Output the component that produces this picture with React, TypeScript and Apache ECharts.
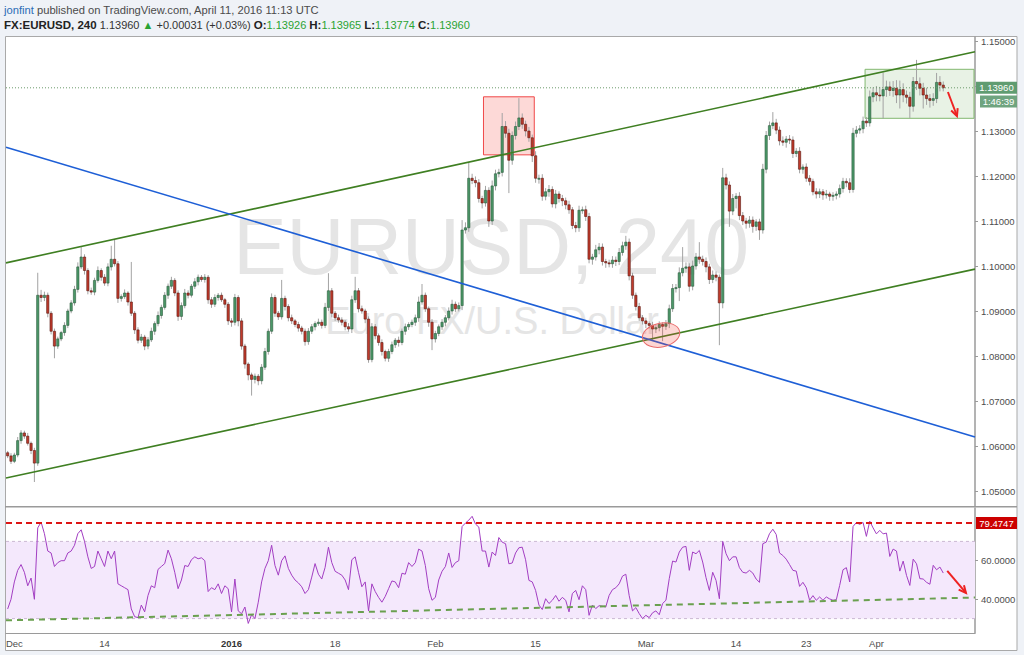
import React, { useEffect, useRef } from 'react';
import * as echarts from 'echarts';

// ---- price data: 8-hour bars, index 0 = Dec 1 2015, index 280 = Apr 11 2016 ----
const firstOpen = 1.0585;
const closes = [
  1.0578, 1.0566, 1.0580, 1.0612, 1.0629, 1.0622, 1.0606, 1.0590, 1.0562, 1.0935,
  1.0930, 1.0935, 1.0895, 1.0855, 1.0822, 1.0838, 1.0852, 1.0868, 1.0900, 1.0918,
  1.0948, 1.0998, 1.1020, 1.0990, 1.0945, 1.0942, 1.0968, 1.0990, 1.0975, 1.0962,
  1.0998, 1.1015, 1.1005, 1.0928, 1.0932, 1.0940, 1.0920, 1.0895, 1.0858, 1.0835,
  1.0842, 1.0822, 1.0836, 1.0855, 1.0872, 1.0890, 1.0908, 1.0935, 1.0955, 1.0968,
  1.0940, 1.0888, 1.0912, 1.0940, 1.0935, 1.0955, 1.0965, 1.0975, 1.0970, 1.0975,
  1.0925, 1.0915, 1.0930, 1.0935, 1.0925, 1.0915, 1.0878, 1.0875, 1.0930, 1.0878,
  1.0822, 1.0782, 1.0758, 1.0748, 1.0755, 1.0745, 1.0775, 1.0810, 1.0855, 1.0930,
  1.0895, 1.0887, 1.0928, 1.0910, 1.0885, 1.0878, 1.0870, 1.0862, 1.0855, 1.0832,
  1.0855, 1.0865, 1.0872, 1.0875, 1.0868, 1.0908, 1.0945, 1.0895, 1.0885, 1.0880,
  1.0875, 1.0865, 1.0860, 1.0925, 1.0945, 1.0905, 1.0900, 1.0882, 1.0792, 1.0865,
  1.0845, 1.0830, 1.0810, 1.0795, 1.0810, 1.0825, 1.0835, 1.0830, 1.0855, 1.0865,
  1.0870, 1.0875, 1.0885, 1.0920, 1.0935, 1.0905, 1.0875, 1.0838, 1.0850, 1.0865,
  1.0875, 1.0885, 1.0900, 1.0915, 1.0905, 1.0912, 1.1080, 1.1085, 1.1195, 1.1190,
  1.1185, 1.1150, 1.1140, 1.1168, 1.1100, 1.1178, 1.1205, 1.1208, 1.1310, 1.1295,
  1.1235, 1.1290, 1.1310, 1.1329, 1.1315, 1.1300, 1.1285, 1.1245, 1.1195, 1.1195,
  1.1155, 1.1165, 1.1170, 1.1138, 1.1160, 1.1150, 1.1145, 1.1136, 1.1125, 1.1090,
  1.1085, 1.1124, 1.1125, 1.1110, 1.1015, 1.1020, 1.1036, 1.1042, 1.1010, 1.1007,
  1.1005, 1.1013, 1.1010, 1.1030, 1.1045, 1.1053, 1.0978, 1.0935, 1.0910, 1.0885,
  1.0878, 1.0872, 1.0868, 1.0860, 1.0863, 1.0870, 1.0866, 1.0872, 1.0905, 1.0950,
  1.0952, 1.0985, 1.0995, 1.0998, 1.0955, 1.1000, 1.1020, 1.1015, 1.1010, 1.0998,
  1.0970, 1.0980, 1.0975, 1.0918, 1.1196, 1.1180, 1.1122, 1.1150, 1.1155, 1.1112,
  1.1100, 1.1095, 1.1102, 1.1088, 1.1098, 1.1080, 1.1215, 1.1290, 1.1312, 1.1318,
  1.1302, 1.1278, 1.1275, 1.1282, 1.1280, 1.1250, 1.1255, 1.1215, 1.1220, 1.1195,
  1.1188, 1.1165, 1.1160, 1.1165, 1.1158, 1.1160, 1.1155, 1.1157, 1.1160, 1.1172,
  1.1188, 1.1185, 1.1170, 1.1295, 1.1302, 1.1305, 1.1322, 1.1318, 1.1376, 1.1385,
  1.1380, 1.1378, 1.1392, 1.1398, 1.1390, 1.1395, 1.1380, 1.1392, 1.1380, 1.1375,
  1.1355, 1.1410, 1.1405, 1.1395, 1.1380, 1.1372, 1.1368, 1.1372, 1.1408, 1.1402,
  1.1396,
];
// wick lengths above / below the body, in pips
const upperWickPips = [
  4, 6, 5, 8, 6, 5, 7, 4, 6, 50,
  12, 8, 6, 5, 6, 5, 4, 7, 5, 6,
  8, 10, 22, 6, 5, 7, 6, 9, 5, 7,
  8, 30, 43, 6, 5, 8, 4, 89, 5, 6,
  7, 5, 6, 8, 5, 9, 6, 7, 6, 8,
  5, 6, 7, 9, 6, 5, 8, 6, 5, 7,
  5, 6, 7, 5, 6, 4, 5, 6, 8, 5,
  6, 5, 4, 5, 6, 5, 7, 8, 6, 9,
  6, 5, 41, 6, 5, 7, 4, 6, 5, 6,
  7, 6, 5, 8, 6, 10, 39, 6, 5, 7,
  6, 5, 8, 9, 31, 6, 7, 5, 6, 8,
  6, 5, 7, 4, 6, 7, 5, 8, 6, 7,
  5, 6, 7, 12, 25, 6, 5, 7, 6, 5,
  7, 6, 8, 10, 6, 7, 22, 12, 36, 10,
  9, 8, 6, 10, 7, 12, 9, 8, 30, 12,
  10, 9, 11, 44, 10, 8, 9, 7, 10, 8,
  9, 8, 10, 7, 9, 6, 8, 7, 9, 6,
  8, 10, 7, 9, 8, 7, 11, 9, 8, 6,
  7, 9, 8, 10, 9, 14, 8, 7, 6, 8,
  6, 7, 5, 8, 6, 7, 5, 8, 9, 10,
  8, 12, 47, 10, 8, 12, 9, 33, 8, 9,
  7, 10, 8, 6, 22, 9, 8, 10, 7, 9,
  8, 7, 9, 8, 6, 7, 12, 10, 9, 24,
  9, 8, 10, 7, 9, 8, 7, 9, 6, 8,
  7, 6, 8, 7, 6, 9, 5, 7, 6, 9,
  8, 7, 10, 12, 9, 8, 10, 9, 14, 12,
  15, 18, 38, 14, 12, 16, 18, 20, 14, 10,
  12, 10, 48, 14, 12, 16, 10, 12, 21, 14,
  8,
];
const lowerWickPips = [
  5, 6, 4, 5, 7, 6, 5, 8, 42, 6,
  10, 8, 9, 7, 27, 6, 5, 7, 6, 5,
  6, 7, 5, 9, 8, 6, 7, 5, 8, 6,
  7, 8, 6, 10, 7, 5, 8, 6, 9, 7,
  6, 9, 7, 5, 8, 6, 7, 5, 8, 6,
  7, 10, 8, 6, 7, 5, 6, 8, 5, 7,
  9, 8, 6, 7, 5, 8, 9, 10, 7, 12,
  8, 10, 12, 36, 9, 10, 8, 6, 7, 6,
  8, 7, 6, 9, 8, 7, 6, 8, 7, 9,
  7, 6, 8, 5, 7, 6, 8, 9, 7, 6,
  7, 8, 6, 9, 7, 8, 6, 9, 7, 6,
  8, 7, 9, 7, 8, 6, 7, 9, 6, 8,
  7, 6, 8, 9, 6, 7, 10, 25, 8, 6,
  7, 9, 6, 8, 7, 6, 10, 8, 9, 8,
  10, 9, 12, 8, 13, 9, 10, 8, 9, 10,
  73, 10, 9, 8, 10, 12, 9, 14, 10, 12,
  10, 9, 11, 8, 10, 9, 12, 10, 9, 8,
  10, 9, 8, 10, 9, 12, 8, 10, 9, 11,
  8, 9, 10, 8, 7, 9, 10, 8, 9, 7,
  8, 10, 7, 24, 9, 8, 33, 8, 10, 7,
  9, 30, 8, 10, 12, 9, 8, 10, 9, 12,
  10, 8, 9, 94, 12, 10, 35, 9, 22, 10,
  9, 12, 10, 14, 10, 22, 8, 9, 10, 8,
  9, 10, 8, 12, 9, 10, 8, 9, 10, 8,
  9, 8, 10, 9, 11, 8, 10, 10, 9, 8,
  9, 10, 8, 7, 9, 8, 10, 9, 8, 12,
  14, 12, 50, 16, 12, 14, 18, 30, 16, 14,
  26, 12, 14, 16, 30, 14, 16, 12, 10, 14,
  8,
];
// RSI(14) per bar
const rsiValues = [
  35, 40, 49, 55, 58, 54, 47, 51, 40, 77,
  80, 74, 65, 64, 57, 59, 60, 60, 64, 65,
  68, 74, 76, 70, 62, 56, 57, 65, 61, 57,
  65, 61, 65, 48, 47, 46, 45, 35, 31, 30.5,
  37, 33.5, 42, 47, 46, 55.5, 57, 58.5, 65.5, 61,
  54, 45.5, 50, 57.5, 57, 60.5, 62, 61, 61.5, 60,
  44, 46, 45, 48, 43, 47, 45.5, 33.5, 50.5, 34,
  32.5, 36, 27.5, 32, 30, 38.5, 49, 56, 60, 68,
  57.5, 52.5, 60, 62.5, 56, 52.5, 50, 48.5, 46.5, 43,
  45, 51.5, 58.5, 53, 50.5, 56.5, 67, 59, 54.5, 53.5,
  52.5, 50, 45, 60.5, 62, 54, 46.5, 49, 34, 48,
  44, 41, 38.5, 41.5, 45.5, 49.5, 49, 46, 53.5, 53,
  59, 57, 59, 66, 65, 57.5, 45.5, 39.5, 41, 50,
  54.5, 57, 64, 56.5, 59, 60, 77.7, 79.5, 81, 83,
  79, 77.4, 65, 65, 56.7, 64.5, 62.7, 72, 69.6, 68.8,
  58.4, 58.8, 64, 66.7, 67, 60.5, 49.8, 49, 44.6, 37,
  34.7, 40.3, 37.8, 39.5, 42, 39, 41, 39.5, 33.5, 43,
  44.6, 39.8, 47, 45, 31.7, 37, 35.2, 36.7, 36.4, 36,
  42, 45, 46, 48, 52, 53, 42, 34, 35.7, 32.6,
  30, 31.7, 30.5, 33, 34, 32, 37.8, 39.5, 50.7, 59.8,
  59.3, 64.5, 67, 67.4, 55, 64.5, 63.6, 65.3, 59.3, 51.2,
  44.6, 54, 49.8, 40.3, 70, 63.6, 60, 62, 62, 56.4,
  54, 53.6, 55, 53.6, 50.5, 48.8, 68.8, 69.6, 74, 76.3,
  73.6, 64, 62.7, 60.8, 58, 55, 54.6, 46.7, 48.8, 46,
  39.5, 41.9, 39.5, 41.2, 39.5, 41.2, 40.2, 39.5, 39.8, 47.2,
  55.3, 56.4, 49, 77.7, 79.8, 78.8, 79.8, 72.6, 80.5, 77,
  73.9, 75.7, 73.9, 74.3, 62.2, 66, 65, 54.6, 59.8, 52.4,
  47.2, 60.8, 58.4, 50.7, 50.5, 48.8, 47.8, 57.6, 55.3, 56.7,
  53.6,
];

// ---- axes ----
const xTickIndex = [2, 29, 67, 98, 128, 158, 191, 218, 239, 260];
const xTickLabels = ['Dec', '14', '2016', '18', 'Feb', '15', 'Mar', '14', '23', 'Apr'];
const priceTicks = [1.05, 1.06, 1.07, 1.08, 1.09, 1.1, 1.11, 1.12, 1.13, 1.14, 1.15];
const rsiTicks = [40, 60];
const lastPrice = 1.1396;
const lastPriceText = '1.13960';
const countdownText = '1:46:39';
const rsiLevel = 79.4747;

// ---- drawings, in [bar index, value] ----
const upperChannel = [[-0.5, 1.1007], [289.5, 1.1476]];
const lowerChannel = [[-0.5, 1.0529], [289.5, 1.0993]];
const blueLine = [[-0.5, 1.1264], [289.5, 1.062]];
const redBox = [[142.4, 1.1376], [157.6, 1.1247]];
const greenBox = [[256.6, 1.14371], [289.2, 1.13282]];
const priceArrow = [[281.4, 1.13867], [284.1, 1.13333]];
const redEllipse = [[189.9, 1.0873], [201.2, 1.082]];
const rsiTrend = [[-0.5, 29.1], [289.5, 40.9]];
const rsiArrow = [[281.2, 54.7], [286.8, 43.3]];
const rsiBand = [30, 70];

const FONT = '"Liberation Sans", Arial, sans-serif';
const X_MIN = -0.5;
const X_MAX = 289.5;

function arrowEls(p1: number[], p2: number[], color: string) {
  const ang = Math.atan2(p2[1] - p1[1], p2[0] - p1[0]);
  const L = 8;
  const a1 = ang + Math.PI - 0.45;
  const a2 = ang + Math.PI + 0.45;
  return [
    { type: 'line', shape: { x1: p1[0], y1: p1[1], x2: p2[0], y2: p2[1] }, style: { stroke: color, lineWidth: 2 } },
    {
      type: 'polyline',
      shape: {
        points: [
          [p2[0] + L * Math.cos(a1), p2[1] + L * Math.sin(a1)],
          [p2[0], p2[1]],
          [p2[0] + L * Math.cos(a2), p2[1] + L * Math.sin(a2)],
        ],
      },
      style: { stroke: color, lineWidth: 2, fill: 'none' },
    },
  ];
}

function labelBox(x: number, yc: number, w: number, text: string, bg: string) {
  return [
    { type: 'rect', shape: { x, y: yc - 6, width: w, height: 12 }, style: { fill: bg } },
    {
      type: 'text',
      x: x + w / 2,
      y: yc,
      style: { text, fill: '#ffffff', font: `9.5px ${FONT}`, align: 'center', verticalAlign: 'middle' },
    },
  ];
}

export default function App() {
  const ref = useRef<HTMLDivElement>(null);

  useEffect(() => {
    if (!ref.current) return;
    const chart = echarts.init(ref.current, null, { renderer: 'svg' });

    const candles = closes.map((c, i) => {
      const o = i === 0 ? firstOpen : closes[i - 1];
      const hi = Math.max(o, c) + upperWickPips[i] / 10000;
      const lo = Math.min(o, c) - lowerWickPips[i] / 10000;
      return [i, o, c, lo, hi];
    });
    const rsiData = rsiValues.map((v, i) => [i, v]);

    const option: any = {
      animation: false,
      backgroundColor: 'transparent',
      grid: [
        { left: 6, top: 37, width: 969, height: 469 },
        { left: 6, top: 508, width: 969, height: 125 },
      ],
      xAxis: [
        { gridIndex: 0, type: 'value', min: X_MIN, max: X_MAX, show: false },
        {
          gridIndex: 1,
          type: 'value',
          min: X_MIN,
          max: X_MAX,
          axisLine: { show: true, onZero: false, lineStyle: { color: '#9a9a9a', width: 1 } },
          axisTick: { show: false },
          splitLine: { show: false },
          axisLabel: {
            customValues: xTickIndex,
            margin: 5,
            color: '#4d4d4d',
            fontSize: 9.5,
            fontFamily: FONT,
            formatter: (v: number) => {
              const k = xTickIndex.indexOf(Math.round(v));
              const t = k >= 0 ? xTickLabels[k] : '';
              return t === '2016' ? '{b|2016}' : t;
            },
            rich: { b: { fontWeight: 'bold', fontSize: 9.5, fontFamily: FONT, color: '#333' } },
          },
        },
      ],
      yAxis: [
        {
          gridIndex: 0,
          type: 'value',
          position: 'right',
          min: 1.046667,
          max: 1.150889,
          axisLine: { show: true, onZero: false, lineStyle: { color: '#9a9a9a', width: 1.5 } },
          axisTick: { show: true, customValues: priceTicks, length: 3, lineStyle: { color: '#9a9a9a' } },
          splitLine: { show: false },
          axisLabel: {
            customValues: priceTicks,
            margin: 6,
            color: '#4d4d4d',
            fontSize: 9.5,
            fontFamily: FONT,
            formatter: (v: number) => v.toFixed(5),
          },
        },
        {
          gridIndex: 1,
          type: 'value',
          position: 'right',
          min: 22.54,
          max: 87.3,
          axisLine: { show: true, onZero: false, lineStyle: { color: '#9a9a9a', width: 1.5 } },
          axisTick: { show: true, customValues: rsiTicks, length: 3, lineStyle: { color: '#9a9a9a' } },
          splitLine: { show: false },
          axisLabel: {
            customValues: rsiTicks,
            margin: 6,
            color: '#4d4d4d',
            fontSize: 9.5,
            fontFamily: FONT,
            formatter: (v: number) => v.toFixed(4),
          },
        },
      ],
      graphic: [
        {
          type: 'rect',
          z: -10,
          shape: { x: 5.5, y: 36.5, width: 1011.5, height: 614 },
          style: { fill: '#ffffff', stroke: '#a9a9a9', lineWidth: 1 },
        },
        {
          type: 'text',
          z: -5,
          x: 491,
          y: 246,
          style: {
            text: 'EURUSD, 240',
            fill: '#e5e5e5',
            font: `80px ${FONT}`,
            align: 'center',
            verticalAlign: 'middle',
          },
        },
        {
          type: 'text',
          z: -5,
          x: 492,
          y: 321,
          style: {
            text: 'Euro FX/U.S. Dollar',
            fill: '#e5e5e5',
            font: `38px ${FONT}`,
            align: 'center',
            verticalAlign: 'middle',
          },
        },
        {
          type: 'line',
          z: 10,
          shape: { x1: 5, y1: 506.75, x2: 1017, y2: 506.75 },
          style: { stroke: '#9a9a9a', lineWidth: 1.5 },
        },
        {
          type: 'text',
          z: 10,
          x: 4,
          y: 10,
          style: {
            text: '{a|jonfint} {b|published on TradingView.com, April 11, 2016 11:13 UTC}',
            font: `11.2px ${FONT}`,
            fill: '#4b4b4b',
            verticalAlign: 'middle',
            rich: {
              a: { fill: '#2b6cb5', font: `11.2px ${FONT}` },
              b: { fill: '#4b4b4b', font: `11.2px ${FONT}` },
            },
          },
        },
        {
          type: 'text',
          z: 10,
          x: 4,
          y: 25,
          style: {
            text:
              '{k|FX:EURUSD, 240} {n|1.13960} {g|▲} {n|+0.00031 (+0.03%)} {k|O:}{g|1.13926} {k|H:}{g|1.13965} {k|L:}{g|1.13774} {k|C:}{g|1.13960}',
            font: `11px ${FONT}`,
            fill: '#333',
            verticalAlign: 'middle',
            rich: {
              k: { fill: '#222', font: `bold 11.5px ${FONT}` },
              n: { fill: '#333', font: `11px ${FONT}` },
              g: { fill: '#2aa332', font: `11px ${FONT}` },
            },
          },
        },
        ...labelBox(980, 101.5, 37, countdownText, '#6fa47f').map((e: any) => ({ ...e, z: 10 })),
      ],
      series: [
        // drawings under candles
        {
          type: 'custom',
          xAxisIndex: 0,
          yAxisIndex: 0,
          z: 1,
          clip: false,
          data: [[0, 1.1]],
          encode: { x: 0, y: 1 },
          renderItem: (_p: any, api: any) => {
            const r1a = api.coord(redBox[0]);
            const r1b = api.coord(redBox[1]);
            const g1a = api.coord(greenBox[0]);
            const g1b = api.coord(greenBox[1]);
            return {
              type: 'group',
              children: [
                {
                  type: 'rect',
                  shape: { x: r1a[0], y: r1a[1], width: r1b[0] - r1a[0], height: r1b[1] - r1a[1] },
                  style: { fill: 'rgba(244,67,54,0.2)', stroke: '#f04848', lineWidth: 1 },
                },
                {
                  type: 'rect',
                  shape: { x: g1a[0], y: g1a[1], width: g1b[0] - g1a[0], height: g1b[1] - g1a[1] },
                  style: { fill: 'rgba(90,165,70,0.14)', stroke: '#82b870', lineWidth: 1 },
                },
              ],
            };
          },
        },
        // candles
        {
          type: 'custom',
          name: 'EURUSD',
          xAxisIndex: 0,
          yAxisIndex: 0,
          z: 3,
          data: candles,
          encode: { x: 0, y: [1, 2, 3, 4] },
          renderItem: (_p: any, api: any) => {
            const i = api.value(0);
            const o = api.value(1);
            const c = api.value(2);
            const lo = api.value(3);
            const hi = api.value(4);
            const pO = api.coord([i, o]);
            const pC = api.coord([i, c]);
            const pH = api.coord([i, hi]);
            const pL = api.coord([i, lo]);
            const bw = Math.max(1.5, api.size([1, 0])[0] * 0.68);
            const up = c >= o;
            const top = Math.min(pO[1], pC[1]);
            const h = Math.max(1, Math.abs(pO[1] - pC[1]));
            const cx = pO[0];
            return {
              type: 'group',
              children: [
                {
                  type: 'line',
                  shape: { x1: cx, y1: pH[1], x2: cx, y2: pL[1] },
                  style: { stroke: '#a3a3a3', lineWidth: 1 },
                },
                {
                  type: 'rect',
                  shape: { x: cx - bw / 2, y: top, width: bw, height: h },
                  style: {
                    fill: up ? '#4b9868' : '#c03a2b',
                    stroke: up ? '#2c5a3c' : '#5a1a12',
                    lineWidth: 0.6,
                  },
                },
              ],
            };
          },
        },
        // drawings over candles
        {
          type: 'custom',
          xAxisIndex: 0,
          yAxisIndex: 0,
          z: 5,
          clip: false,
          data: [[0, 1.1]],
          encode: { x: 0, y: 1 },
          renderItem: (_p: any, api: any) => {
            const seg = (pts: number[][], color: string, w: number, dash?: number[]) => {
              const a = api.coord(pts[0]);
              const b = api.coord(pts[1]);
              return {
                type: 'line',
                shape: { x1: a[0], y1: a[1], x2: b[0], y2: b[1] },
                style: { stroke: color, lineWidth: w, lineDash: dash || null },
              };
            };
            const e1 = api.coord(redEllipse[0]);
            const e2 = api.coord(redEllipse[1]);
            const lp = api.coord([X_MAX, lastPrice]);
            return {
              type: 'group',
              children: [
                seg([[X_MIN, lastPrice], [X_MAX, lastPrice]], '#6b9a6b', 1, [1, 2]),
                seg(upperChannel, '#3f7f22', 1.6),
                seg(lowerChannel, '#3f7f22', 1.6),
                seg(blueLine, '#1e5fd6', 1.6),
                {
                  type: 'ellipse',
                  x: (e1[0] + e2[0]) / 2,
                  y: (e1[1] + e2[1]) / 2,
                  rotation: 0.2,
                  shape: { cx: 0, cy: 0, rx: Math.abs(e2[0] - e1[0]) / 2, ry: Math.abs(e2[1] - e1[1]) / 2 },
                  style: { fill: 'rgba(244,67,54,0.22)', stroke: '#e86a6a', lineWidth: 1 },
                },
                ...arrowEls(api.coord(priceArrow[0]), api.coord(priceArrow[1]), '#ee2222'),
                ...labelBox(lp[0] + 1, lp[1], 41, lastPriceText, '#609c71'),
              ],
            };
          },
        },
        // RSI band fill
        {
          type: 'custom',
          xAxisIndex: 1,
          yAxisIndex: 1,
          z: 1,
          clip: false,
          data: [[0, 50]],
          encode: { x: 0, y: 1 },
          renderItem: (_p: any, api: any) => {
            const a = api.coord([X_MIN, rsiBand[1]]);
            const b = api.coord([X_MAX, rsiBand[0]]);
            const dashLine = (y: number) => ({
              type: 'line',
              shape: { x1: a[0], y1: y, x2: b[0], y2: y },
              style: { stroke: '#cbb8d3', lineWidth: 1, lineDash: [3, 3] },
            });
            return {
              type: 'group',
              children: [
                { type: 'rect', shape: { x: a[0], y: a[1], width: b[0] - a[0], height: b[1] - a[1] }, style: { fill: '#f4e8fc' } },
                dashLine(a[1]),
                dashLine(b[1]),
              ],
            };
          },
        },
        {
          type: 'line',
          name: 'RSI',
          xAxisIndex: 1,
          yAxisIndex: 1,
          z: 3,
          data: rsiData,
          showSymbol: false,
          symbol: 'none',
          lineStyle: { color: '#a23ec2', width: 1 },
        },
        {
          type: 'custom',
          xAxisIndex: 1,
          yAxisIndex: 1,
          z: 5,
          clip: false,
          data: [[0, 50]],
          encode: { x: 0, y: 1 },
          renderItem: (_p: any, api: any) => {
            const seg = (pts: number[][], color: string, w: number, dash?: number[]) => {
              const a = api.coord(pts[0]);
              const b = api.coord(pts[1]);
              return {
                type: 'line',
                shape: { x1: a[0], y1: a[1], x2: b[0], y2: b[1] },
                style: { stroke: color, lineWidth: w, lineDash: dash || null },
              };
            };
            const lv = api.coord([X_MAX, rsiLevel]);
            return {
              type: 'group',
              children: [
                seg([[X_MIN, rsiLevel], [X_MAX, rsiLevel]], '#dd1515', 2, [6, 4]),
                seg(rsiTrend, '#6aa04f', 2, [6, 5]),
                ...arrowEls(api.coord(rsiArrow[0]), api.coord(rsiArrow[1]), '#ee2222'),
                ...labelBox(lv[0] + 1, lv[1], 41, rsiLevel.toFixed(4), '#cc0000'),
              ],
            };
          },
        },
      ],
    };

    chart.setOption(option);
    return () => chart.dispose();
  }, []);

  return (
    <div
      ref={ref}
      style={{ position: 'absolute', left: 0, top: 0, width: 1024, height: 655, background: '#eff2f7' }}
    />
  );
}
